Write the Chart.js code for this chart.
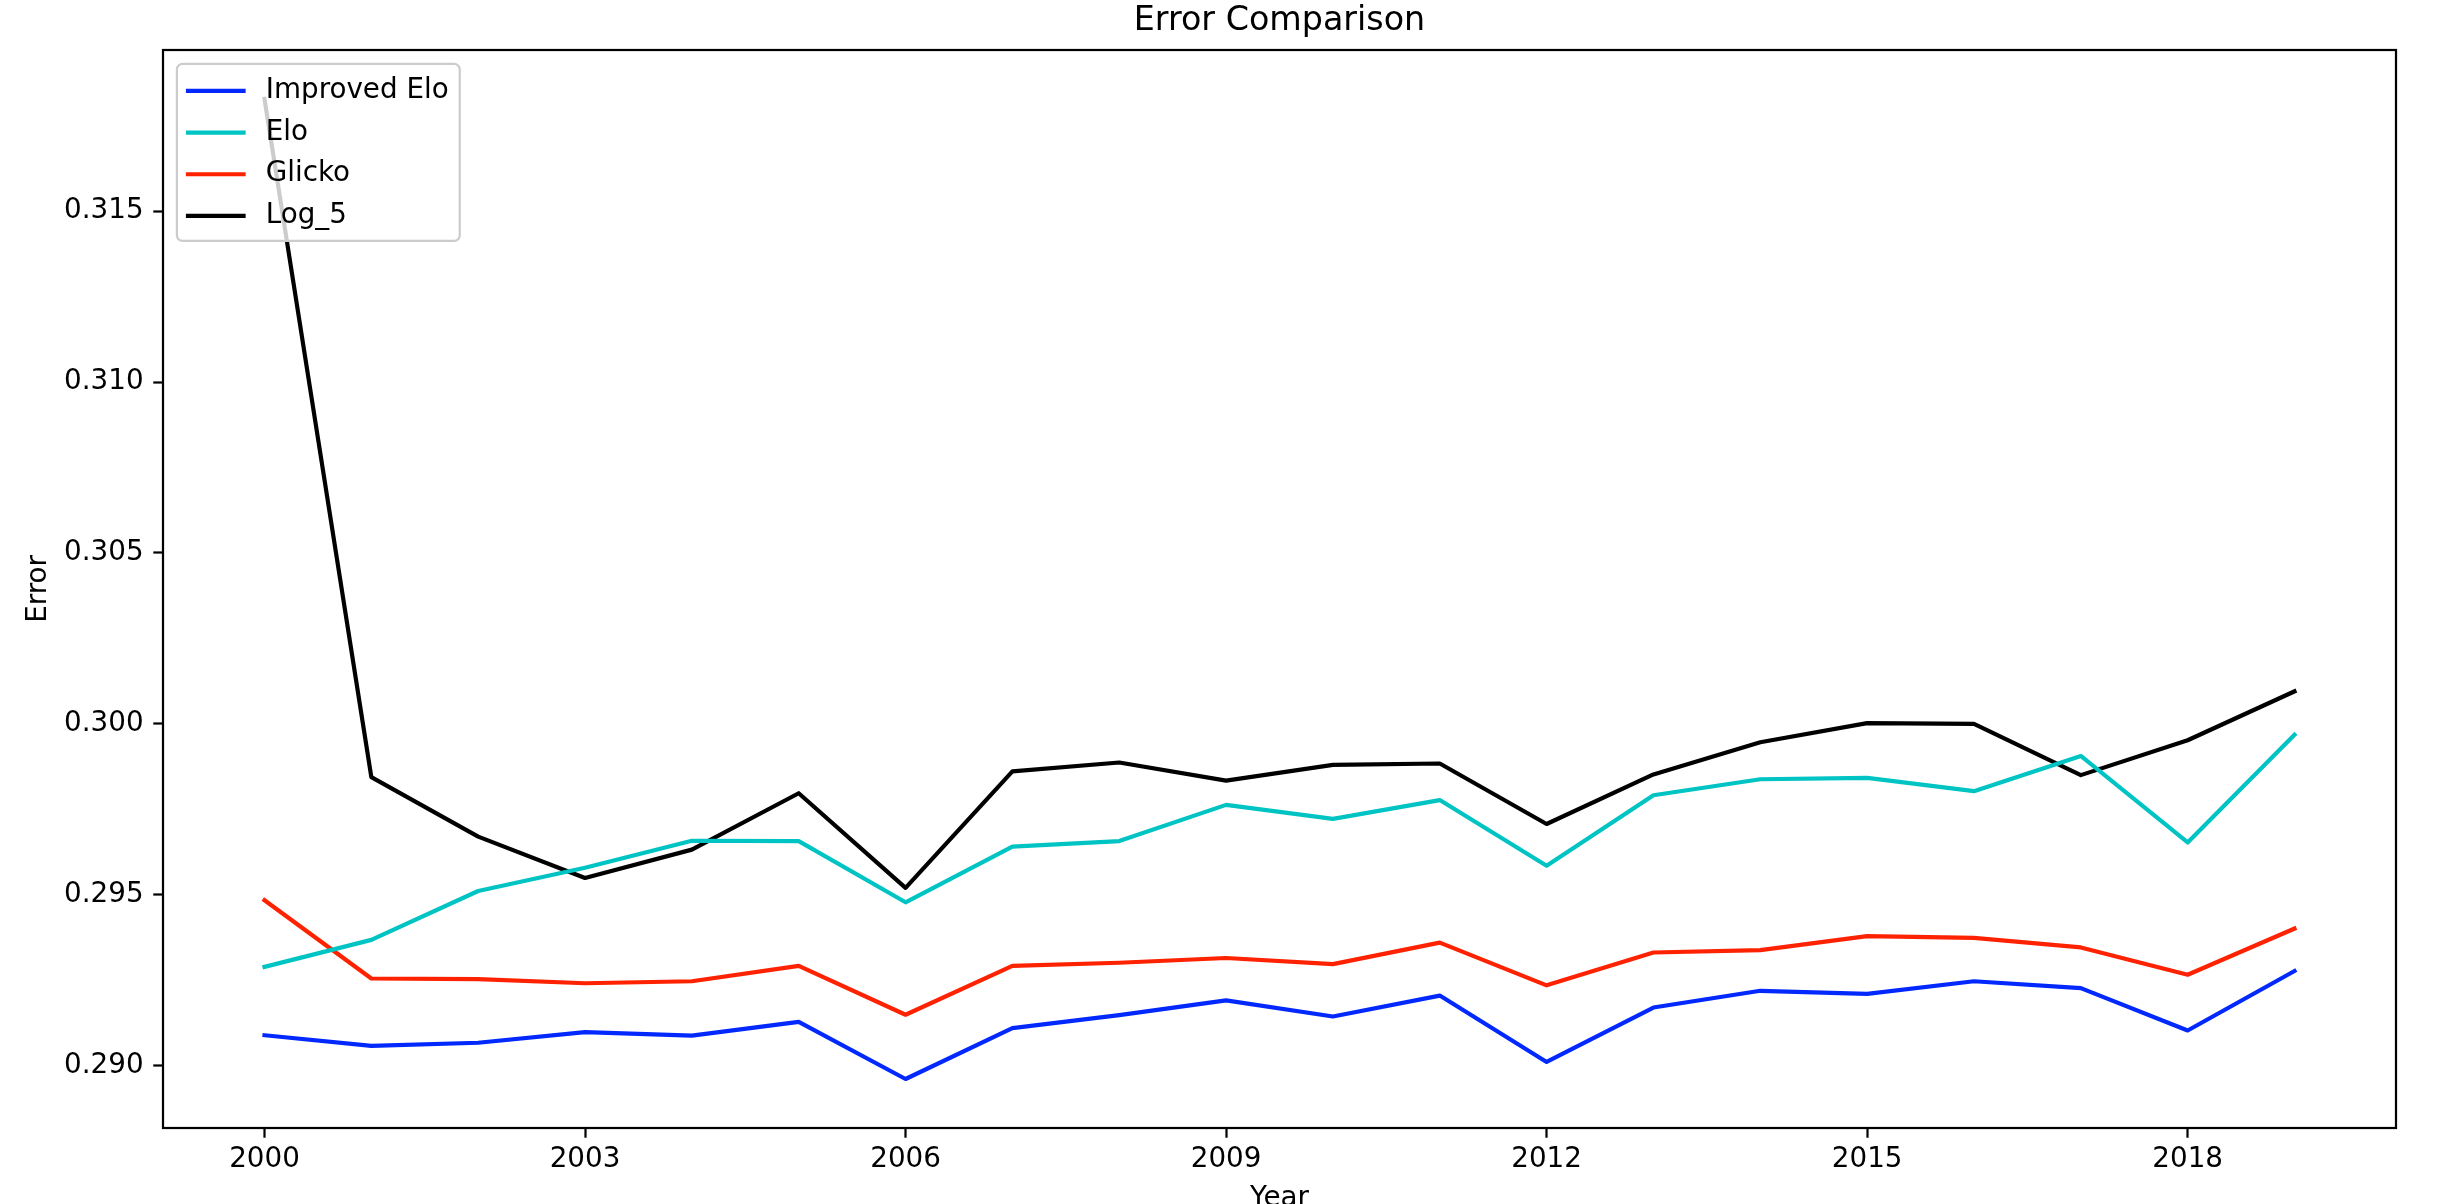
<!DOCTYPE html>
<html>
<head>
<meta charset="utf-8">
<script src="https://cdn.jsdelivr.net/npm/chart.js@4"></script>
<style>
    html, body { margin: 0; padding: 0; background: #fff; }
    #wrap { width: 2462px; height: 1204px; position: relative; }
</style>
</head>
<body>
<div id="wrap"><canvas id="errorChart"></canvas></div>
<script>
const years = [2000, 2001, 2002, 2003, 2004, 2005, 2006, 2007, 2008, 2009,
               2010, 2011, 2012, 2013, 2014, 2015, 2016, 2017, 2018, 2019];

const improvedElo = [0.29089, 0.29058, 0.29067, 0.29098, 0.29088, 0.29128, 0.28961, 0.29110, 0.29148, 0.29191,
                     0.29144, 0.29205, 0.29011, 0.29170, 0.29219, 0.29210, 0.29247, 0.29227, 0.29103, 0.29277];
const elo = [0.29289, 0.29368, 0.29511, 0.29579, 0.29658, 0.29657, 0.29478, 0.29641, 0.29657, 0.29763,
             0.29722, 0.29777, 0.29585, 0.29791, 0.29838, 0.29842, 0.29803, 0.29906, 0.29653, 0.29968];
const glicko = [0.29484, 0.29255, 0.29253, 0.29241, 0.29247, 0.29292, 0.29149, 0.29292, 0.29301, 0.29315,
                0.29297, 0.29360, 0.29235, 0.29331, 0.29338, 0.29379, 0.29374, 0.29346, 0.29266, 0.29401];
const log5 = [0.31828, 0.29844, 0.29670, 0.29549, 0.29632, 0.29797, 0.29520, 0.29861, 0.29887, 0.29834,
              0.29880, 0.29884, 0.29707, 0.29852, 0.29946, 0.30002, 0.30000, 0.29850, 0.29952, 0.30095];

const seriesNames = ['Improved Elo', 'Elo', 'Glicko', 'Log_5'];
const seriesColors = ['#0028ff', '#00c4c4', '#ff2200', '#000000'];

const xTicks = [2000, 2003, 2006, 2009, 2012, 2015, 2018];
const yTicks = [0.290, 0.295, 0.300, 0.305, 0.310, 0.315];

// matplotlib-ish sizes (dpi 200)
const PT = 200 / 72;
const FONT = 'DejaVu Sans';

// auto limits with 5% margins like matplotlib
const allValues = [].concat(improvedElo, elo, glicko, log5);
const yMinData = Math.min(...allValues), yMaxData = Math.max(...allValues);
const ySpan = yMaxData - yMinData;
const xSpan = years[years.length - 1] - years[0];

const toPoints = arr => arr.map((v, i) => ({ x: years[i], y: v }));

// box around axes + legend inside
const framePlugin = {
    id: 'frameAndLegend',
    afterDatasetsDraw(chart) {
        const { ctx, chartArea: a } = chart;
        ctx.save();
        ctx.strokeStyle = '#000';
        ctx.lineWidth = 0.8 * PT;
        ctx.strokeRect(a.left, a.top, a.right - a.left, a.bottom - a.top);

        // legend
        const fs = 10 * PT;
        ctx.font = fs + 'px "' + FONT + '"';
        const ds = chart.data.datasets;
        const maxW = Math.max(...ds.map(d => ctx.measureText(d.label).width));
        const bx = a.left + 0.5 * fs;
        const by = a.top + 0.5 * fs;
        const pad = 0.4 * fs;
        const handleLen = 2.0 * fs;
        const textGap = 0.8 * fs;
        const rowH = 1.5 * fs;
        const bw = pad + handleLen + textGap + maxW + pad;
        const bh = pad * 2 + rowH * ds.length - 0.5 * fs + 2;
        const r = 0.2 * fs;

        ctx.beginPath();
        ctx.roundRect(bx, by, bw, bh, r);
        ctx.fillStyle = 'rgba(255,255,255,0.8)';
        ctx.fill();
        ctx.strokeStyle = '#cccccc';
        ctx.lineWidth = 0.8 * PT;
        ctx.stroke();

        ds.forEach((d, i) => {
            const cy = by + pad + 0.5 * fs + 2 + i * rowH;
            ctx.beginPath();
            ctx.moveTo(bx + pad, cy);
            ctx.lineTo(bx + pad + handleLen, cy);
            ctx.strokeStyle = d.borderColor;
            ctx.lineWidth = 1.5 * PT;
            ctx.lineCap = 'square';
            ctx.stroke();
            ctx.fillStyle = '#000';
            ctx.textAlign = 'left';
            ctx.textBaseline = 'middle';
            ctx.fillText(d.label, bx + pad + handleLen + textGap, cy);
        });
        ctx.restore();
    }
};

const seriesData = [improvedElo, elo, glicko, log5];

new Chart(document.getElementById('errorChart'), {
    type: 'line',
    data: {
        datasets: seriesData.map((arr, i) => ({
            label: seriesNames[i],
            data: toPoints(arr),
            borderColor: seriesColors[i],
            backgroundColor: seriesColors[i],
            borderWidth: 1.5 * PT,
            borderJoinStyle: 'round',
            borderCapStyle: 'square',
            pointRadius: 0,
            tension: 0,
            fill: false
        }))
    },
    options: {
        responsive: true,
        maintainAspectRatio: false,
        devicePixelRatio: 1,
        animation: false,
        events: [],
        layout: { padding: { left: 0, right: 66, top: 0, bottom: 0 } },
        plugins: {
            legend: { display: false },
            tooltip: { enabled: false },
            title: {
                display: true,
                text: 'Error Comparison',
                fullSize: false,
                color: '#000',
                font: { family: FONT, size: 12 * PT, weight: 'normal', lineHeight: 1.2 },
                padding: { top: 1.8, bottom: 8.2 }
            }
        },
        scales: {
            x: {
                type: 'linear',
                min: years[0] - 0.05 * xSpan,
                max: years[years.length - 1] + 0.05 * xSpan,
                afterBuildTicks: s => { s.ticks = xTicks.map(v => ({ value: v })); },
                afterFit: s => { s.height = 76; },
                grid: {
                    display: true, drawOnChartArea: false, drawTicks: true,
                    tickLength: 3.5 * PT, tickWidth: 0.8 * PT, tickColor: '#000'
                },
                border: { display: false },
                ticks: {
                    color: '#000', padding: 5.6, maxRotation: 0, autoSkip: false,
                    font: { family: FONT, size: 10 * PT },
                    callback: v => String(v)
                },
                title: {
                    display: true, text: 'Year', color: '#000',
                    font: { family: FONT, size: 10 * PT },
                    padding: { top: 0, bottom: -11 }
                }
            },
            y: {
                type: 'linear',
                min: yMinData - 0.05 * ySpan,
                max: yMaxData + 0.05 * ySpan,
                afterBuildTicks: s => { s.ticks = yTicks.map(v => ({ value: v })); },
                afterFit: s => { s.width = 163; },
                grid: {
                    display: true, drawOnChartArea: false, drawTicks: true,
                    tickLength: 3.5 * PT, tickWidth: 0.8 * PT, tickColor: '#000'
                },
                border: { display: false },
                ticks: {
                    color: '#000', padding: 3.5 * PT, autoSkip: false,
                    font: { family: FONT, size: 10 * PT },
                    callback: v => v.toFixed(3)
                },
                title: {
                    display: true, text: 'Error', color: '#000',
                    font: { family: FONT, size: 10 * PT },
                    padding: { top: 21.8, bottom: 0 }
                }
            }
        }
    },
    plugins: [framePlugin]
});
</script>
</body>
</html>
